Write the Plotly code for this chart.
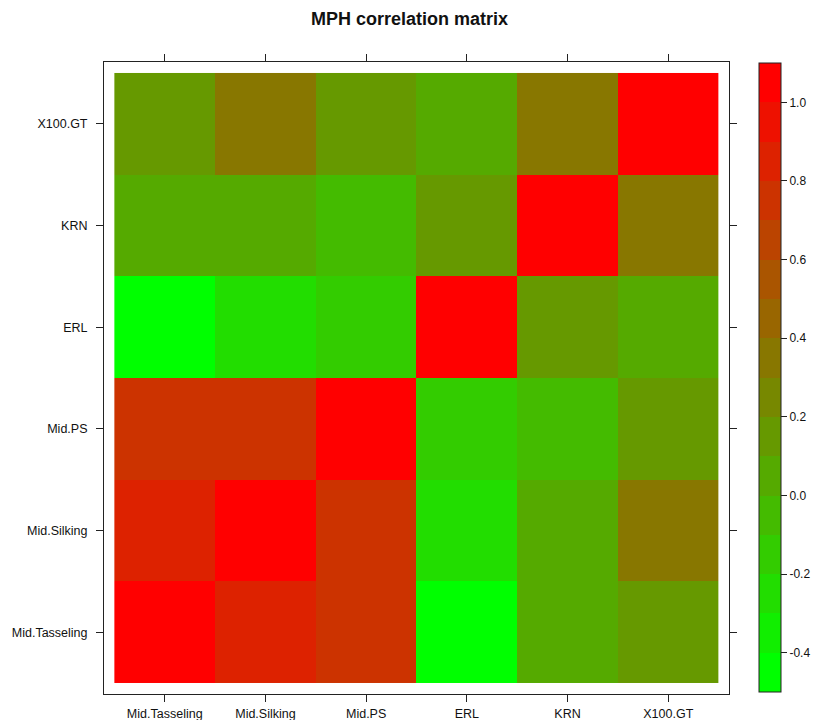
import plotly.graph_objects as go

# ---- data ----
traits = ["Mid.Tasseling", "Mid.Silking", "Mid.PS", "ERL", "KRN", "X100.GT"]

row_mid_tasseling = [1.00, 0.85, 0.75, -0.43, 0.05, 0.15]
row_mid_silking   = [0.85, 1.00, 0.75, -0.25, 0.05, 0.35]
row_mid_ps        = [0.75, 0.75, 1.00, -0.15, -0.05, 0.15]
row_erl           = [-0.43, -0.25, -0.15, 1.00, 0.15, 0.05]
row_krn           = [0.05, 0.05, -0.05, 0.15, 1.00, 0.35]
row_x100_gt       = [0.15, 0.35, 0.15, 0.05, 0.35, 1.00]

z = [row_mid_tasseling, row_mid_silking, row_mid_ps, row_erl, row_krn, row_x100_gt]

colorbar_ticks = [-0.4, -0.2, 0.0, 0.2, 0.4, 0.6, 0.8, 1.0]
zmin, zmax = -0.5, 1.1
n_levels = 16

# ---- discrete green->red palette (like colorRampPalette(c("green","red"))(16)) ----
cols = []
for i in range(n_levels):
    r = 17 * i
    g = 255 - 17 * i
    cols.append(f"rgb({r},{g},0)")

eps = 1e-4
colorscale = []
for i, c in enumerate(cols):
    lo = 0.0 if i == 0 else i / n_levels - eps
    hi = 1.0 if i == n_levels - 1 else (i + 1) / n_levels - eps
    colorscale.append([lo, c])
    colorscale.append([hi, c])

W, H = 823, 720
L, R, T, B = 104, 89, 62, 26
plot_w = W - L - R
plot_h = H - T - B

FONT = "Liberation Sans, Arial, Helvetica, sans-serif"

fig = go.Figure(
    go.Heatmap(
        z=z, x=traits, y=traits,
        zmin=zmin, zmax=zmax,
        colorscale=colorscale,
        xgap=0, ygap=0,
        colorbar=dict(
            x=(764 - L) / plot_w, xanchor="left",
            y=(H - B - 377.5) / plot_h, yanchor="middle",
            len=629, lenmode="pixels",
            thickness=22, thicknessmode="pixels",
            outlinecolor="#222222", outlinewidth=1,
            ticks="outside", ticklen=6, tickcolor="#222222",
            tickvals=colorbar_ticks,
            ticktext=[f"{v:.1f}" for v in colorbar_ticks],
            tickfont=dict(family=FONT, size=12, color="#111111"),
            xpad=0, ypad=0,
        ),
        hoverongaps=False,
    )
)

padx = 0.103
pady = 0.108
axis_common = dict(
    showline=True, linecolor="#222222", linewidth=1, mirror="ticks",
    ticks="outside", ticklen=7, tickcolor="#222222", tickwidth=1,
    showgrid=False, zeroline=False,
    tickfont=dict(family=FONT, size=12.5, color="#111111"),
    automargin=False,
)

fig.update_layout(
    width=W, height=H,
    margin=dict(l=L, r=R, t=T, b=B),
    paper_bgcolor="white", plot_bgcolor="white",
    title=dict(
        text="<b>MPH correlation matrix</b>",
        x=409.5 / W, xref="container", xanchor="center",
        y=1 - 19 / H, yref="container", yanchor="middle",
        font=dict(family=FONT, size=18, color="#111111"),
    ),
    xaxis=dict(range=[-0.5 - padx, 5.5 + padx], ticklabelstandoff=1, **axis_common),
    yaxis=dict(range=[-0.5 - pady, 5.5 + pady], ticklabelstandoff=6, **axis_common),
)

fig.write_html(
    "out.html",
    config={"displayModeBar": False},
    post_script="document.body.style.margin='0';document.body.style.overflow='hidden';",
)
